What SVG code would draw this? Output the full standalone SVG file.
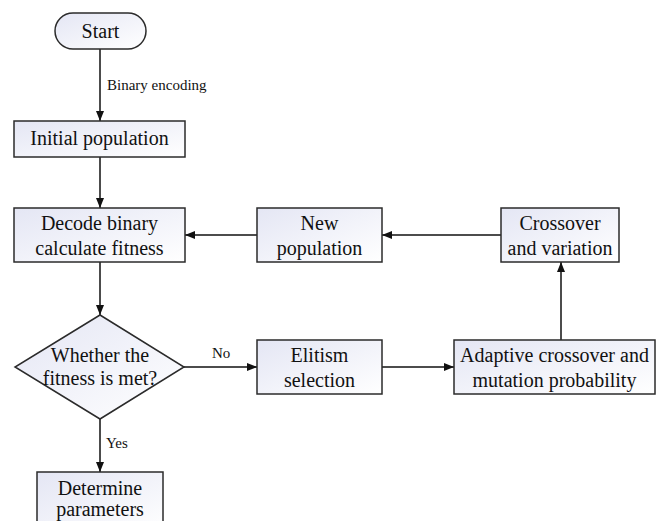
<svg xmlns="http://www.w3.org/2000/svg" width="657" height="521" viewBox="0 0 657 521">
<style>
.box{fill:url(#g);stroke:#2b2b2b;stroke-width:1.5}
.t{font-family:'Liberation Serif','Times New Roman','DejaVu Serif',serif;font-size:20px;fill:#111;text-anchor:middle}
.s{font-family:'Liberation Serif','Times New Roman','DejaVu Serif',serif;font-size:15px;fill:#111}
.c{fill:none;stroke:#111;stroke-width:1.5;marker-end:url(#a)}
</style>
<defs>
<linearGradient id="g" x1="0" y1="0" x2="1" y2="1">
<stop offset="0" stop-color="#e4e6f4"/>
<stop offset="1" stop-color="#ffffff"/>
</linearGradient>
<marker id="a" markerWidth="10" markerHeight="8" refX="10" refY="4" orient="auto" markerUnits="userSpaceOnUse">
<path d="M0,0 L10,4 L0,8 Z" fill="#111"/>
</marker>
</defs>
<rect width="657" height="521" fill="#fff"/>
<g id="connectors">
<line class="c" x1="100" y1="49" x2="100" y2="121"/>
<line class="c" x1="100" y1="157" x2="100" y2="208"/>
<line class="c" x1="100" y1="262" x2="100" y2="315"/>
<line class="c" x1="184" y1="367" x2="257" y2="367"/>
<line class="c" x1="382" y1="367" x2="454" y2="367"/>
<line class="c" x1="561" y1="340" x2="561" y2="262"/>
<line class="c" x1="501" y1="235" x2="382" y2="235"/>
<line class="c" x1="257" y1="235" x2="185" y2="235"/>
<line class="c" x1="100" y1="419" x2="100" y2="472"/>
<text class="s" x="107" y="90" font-family="Liberation Serif, serif">Binary encoding</text>
<text class="s" x="212" y="358" font-family="Liberation Serif, serif">No</text>
<text class="s" x="106" y="448" font-family="Liberation Serif, serif">Yes</text>
</g>
<g id="start">
<rect class="box" x="55" y="13" width="91" height="36" rx="18"/>
<text class="t" x="100.5" y="38" font-family="Liberation Serif, serif">Start</text>
</g>
<g id="initial">
<rect class="box" x="14" y="121" width="171" height="36"/>
<text class="t" x="99.5" y="145" font-family="Liberation Serif, serif">Initial population</text>
</g>
<g id="decode">
<rect class="box" x="14" y="208" width="171" height="54"/>
<text class="t" x="99.5" y="230" font-family="Liberation Serif, serif">Decode binary</text>
<text class="t" x="99.5" y="255" font-family="Liberation Serif, serif">calculate fitness</text>
</g>
<g id="newpop">
<rect class="box" x="257" y="208" width="125" height="54"/>
<text class="t" x="319.5" y="230" font-family="Liberation Serif, serif">New</text>
<text class="t" x="319.5" y="255" font-family="Liberation Serif, serif">population</text>
</g>
<g id="crossover">
<rect class="box" x="501" y="208" width="118" height="54"/>
<text class="t" x="560" y="230" font-family="Liberation Serif, serif">Crossover</text>
<text class="t" x="560" y="255" font-family="Liberation Serif, serif">and variation</text>
</g>
<g id="decision">
<polygon class="box" points="100,315 184,367 100,419 15,367"/>
<text class="t" x="100" y="362" font-family="Liberation Serif, serif">Whether the</text>
<text class="t" x="100" y="385" font-family="Liberation Serif, serif">fitness is met?</text>
</g>
<g id="elitism">
<rect class="box" x="257" y="340" width="125" height="54"/>
<text class="t" x="319.5" y="362" font-family="Liberation Serif, serif">Elitism</text>
<text class="t" x="319.5" y="387" font-family="Liberation Serif, serif">selection</text>
</g>
<g id="adaptive">
<rect class="box" x="454" y="340" width="201" height="54"/>
<text class="t" x="554.5" y="362" font-family="Liberation Serif, serif">Adaptive crossover and</text>
<text class="t" x="554.5" y="387" font-family="Liberation Serif, serif">mutation probability</text>
</g>
<g id="determine">
<rect class="box" x="37" y="472" width="126" height="60"/>
<text class="t" x="100" y="495" font-family="Liberation Serif, serif">Determine</text>
<text class="t" x="100" y="516" font-family="Liberation Serif, serif">parameters</text>
</g>
</svg>
